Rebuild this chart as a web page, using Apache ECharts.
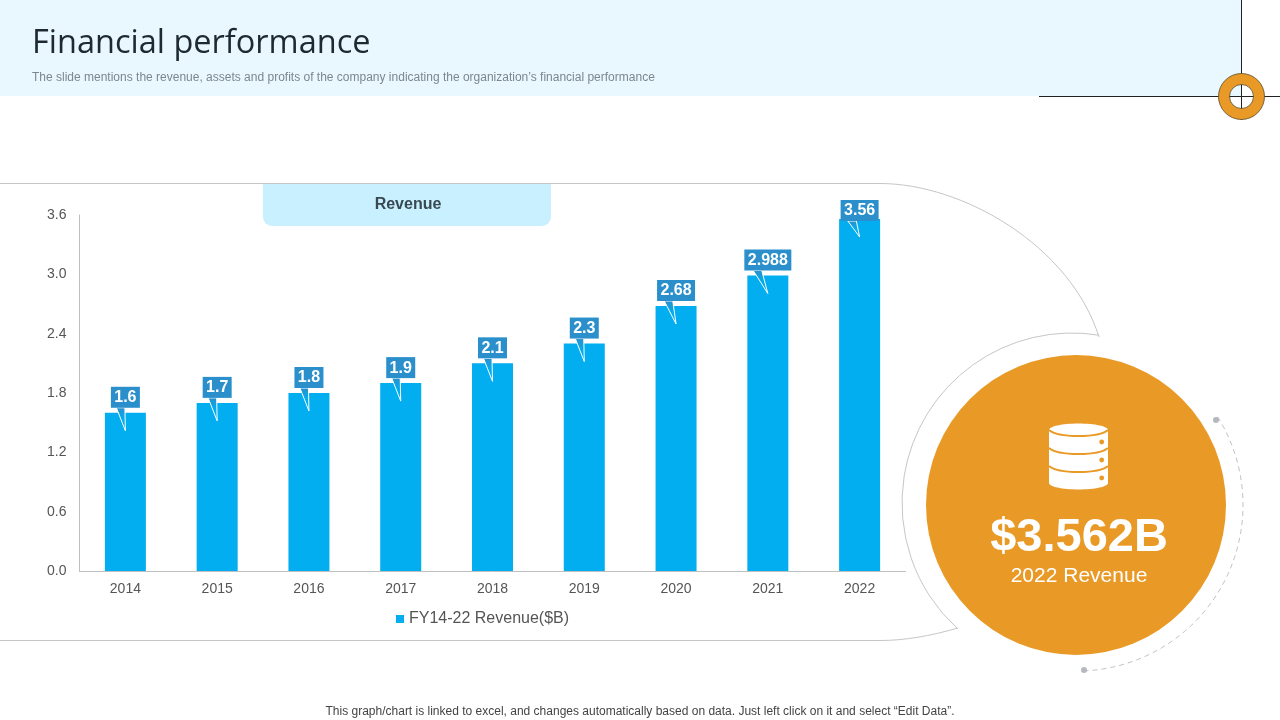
<!DOCTYPE html>
<html>
<head>
<meta charset="utf-8">
<title>Financial performance</title>
<script src="https://cdn.jsdelivr.net/npm/echarts@6/dist/echarts.min.js"></script>
<style>
  html, body { margin: 0; padding: 0; background: #fff; }
  #chart { width: 1280px; height: 720px; }
</style>
</head>
<body>
<div id="chart"></div>
<script>
var years = ['2014', '2015', '2016', '2017', '2018', '2019', '2020', '2021', '2022']
var revenue = [1.6, 1.7, 1.8, 1.9, 2.1, 2.3, 2.68, 2.988, 3.56]

var ORANGE = '#E99A26'
var BAR = '#02AEEF'
var CALLOUT = '#2A8FCB'
var OUTLINE = '#C4C6C8'
var FONT = '"Liberation Sans", Arial, sans-serif'

// callout label above each bar
function renderCallout (params, api) {
  var p = api.coord([api.value(0), api.value(1)])
  var plotTop = api.coord([0, 3.6])[1]
  var text = String(api.value(1))
  var w = text.length * 9 + 2
  // the tallest bar's box stays just above the plot, overlapping the bar
  var top = Math.max(p[1] - 26, plotTop - 15)
  var bottom = top + 21
  var left = p[0] - w / 2
  var tailLeft = p[0] - w * 0.31
  return {
    type: 'group',
    children: [
      {
        type: 'polygon',
        shape: { points: [[tailLeft, bottom], [p[0], p[1] + 18], [tailLeft + 8.5, bottom]] },
        style: {
          fill: {
            type: 'linear',
            x: 0,
            y: 0,
            x2: 0,
            y2: 1,
            colorStops: [{ offset: 0, color: CALLOUT }, { offset: 0.5, color: BAR }]
          },
          stroke: '#fff',
          lineWidth: 1
        }
      },
      {
        type: 'rect',
        shape: { x: left, y: top, width: w, height: bottom - top },
        style: { fill: CALLOUT }
      },
      {
        type: 'text',
        style: {
          x: p[0],
          y: (top + bottom) / 2 + 0.5,
          text: text,
          fill: '#fff',
          font: 'bold 16px ' + FONT,
          align: 'center',
          verticalAlign: 'middle'
        }
      }
    ]
  }
}

function outline (shape, type) {
  return { type: type, silent: true, z: 0, shape: shape, style: { fill: 'none', stroke: OUTLINE, lineWidth: 1 } }
}

function iconBand (y) {
  return {
    type: 'bezierCurve',
    silent: true,
    z: 4,
    shape: { x1: 1049, y1: y, cpx1: 1058, cpy1: y + 8, cpx2: 1099, cpy2: y + 8, x2: 1108, y2: y },
    style: { fill: 'none', stroke: ORANGE, lineWidth: 1.8 }
  }
}

function iconDot (y) {
  return { type: 'circle', silent: true, z: 4, shape: { cx: 1101.7, cy: y, r: 2.4 }, style: { fill: ORANGE } }
}

var decorations = [
  { type: 'rect', silent: true, z: 0, shape: { x: 0, y: 0, width: 1241, height: 96 }, style: { fill: '#E9F7FE' } },
  { type: 'line', silent: true, z: 1, shape: { x1: 1241.5, y1: 0, x2: 1241.5, y2: 120 }, style: { stroke: '#222', lineWidth: 1 } },
  { type: 'line', silent: true, z: 1, shape: { x1: 1039, y1: 96.5, x2: 1280, y2: 96.5 }, style: { stroke: '#222', lineWidth: 1 } },
  { type: 'ring', silent: true, z: 2, shape: { cx: 1241.5, cy: 96.5, r: 23, r0: 12 }, style: { fill: ORANGE, stroke: '#5a4a2a', lineWidth: 0.8 } },
  { type: 'text', silent: true, z: 3, style: { x: 32, y: 44, text: 'Financial performance', fill: '#1F2A30', font: '32.5px "Open Sans", sans-serif', verticalAlign: 'middle' } },
  { type: 'text', silent: true, z: 3, style: { x: 32, y: 77.5, text: 'The slide mentions the revenue, assets and profits of the company indicating the organization\u2019s financial performance', fill: '#7C878E', font: '12px ' + FONT, verticalAlign: 'middle' } },

  // panel outline
  outline({ x1: 0, y1: 183.5, x2: 880, y2: 183.5 }, 'line'),
  outline({ x1: 880, y1: 183.5, cpx1: 962, cpy1: 183.5, cpx2: 1070, cpy2: 245, x2: 1099, y2: 337 }, 'bezierCurve'),
  outline({ cx: 1072, cy: 503, r: 170, startAngle: -1.41, endAngle: 2.31, clockwise: false }, 'arc'),
  outline({ x1: 958, y1: 628, cpx1: 930, cpy1: 636, cpx2: 905, cpy2: 640.5, x2: 880, y2: 640.5 }, 'bezierCurve'),
  outline({ x1: 880, y1: 640.5, x2: 0, y2: 640.5 }, 'line'),

  // revenue tab
  { type: 'rect', silent: true, z: 1, shape: { x: 263, y: 184, width: 288, height: 42, r: [0, 0, 9, 9] }, style: { fill: '#C9F0FE' } },
  { type: 'text', silent: true, z: 2, style: { x: 408, y: 204.5, text: 'Revenue', fill: '#3A4850', font: 'bold 16px ' + FONT, align: 'center', verticalAlign: 'middle' } },

  // big circle
  { type: 'circle', silent: true, z: 1, shape: { cx: 1076, cy: 505, r: 150 }, style: { fill: ORANGE } },
  { type: 'arc', silent: true, z: 1, shape: { cx: 1077, cy: 505, r: 166, startAngle: -0.56, endAngle: 1.52, clockwise: true }, style: { fill: 'none', stroke: '#BFC1C5', lineWidth: 1, lineDash: [5, 4] } },
  { type: 'circle', silent: true, z: 2, shape: { cx: 1216, cy: 420, r: 3 }, style: { fill: '#B5B8BE' } },
  { type: 'circle', silent: true, z: 2, shape: { cx: 1084, cy: 670, r: 3 }, style: { fill: '#B5B8BE' } },

  // database icon
  { type: 'ellipse', silent: true, z: 3, shape: { cx: 1078.5, cy: 430, rx: 29.5, ry: 6.5 }, style: { fill: '#fff' } },
  { type: 'rect', silent: true, z: 3, shape: { x: 1049, y: 430, width: 59, height: 53 }, style: { fill: '#fff' } },
  { type: 'ellipse', silent: true, z: 3, shape: { cx: 1078.5, cy: 483, rx: 29.5, ry: 6.5 }, style: { fill: '#fff' } },
  iconBand(430), iconBand(448), iconBand(466),
  iconDot(442), iconDot(460), iconDot(478),

  { type: 'text', silent: true, z: 3, style: { x: 1079, y: 538, text: '$3.562B', fill: '#fff', font: 'bold 47px ' + FONT, align: 'center', verticalAlign: 'middle' } },
  { type: 'text', silent: true, z: 3, style: { x: 1079, y: 576, text: '2022 Revenue', fill: '#fff', font: '21px ' + FONT, align: 'center', verticalAlign: 'middle' } },

  // footer
  { type: 'text', silent: true, z: 3, style: { x: 640, y: 712, text: 'This graph/chart is linked to excel, and changes automatically based on data. Just left click on it and select \u201cEdit Data\u201d.', fill: '#444', font: '12px ' + FONT, align: 'center', verticalAlign: 'middle' } }
]

var chart = echarts.init(document.getElementById('chart'), null, { renderer: 'canvas' })
chart.setOption({
  animation: false,
  backgroundColor: '#fff',
  textStyle: { fontFamily: FONT },
  graphic: { elements: decorations },
  grid: { left: 79.5, right: 374.5, top: 215, bottom: 149 },
  legend: {
    data: ['FY14-22 Revenue($B)'],
    left: 391,
    top: 606,
    icon: 'rect',
    itemWidth: 8,
    itemHeight: 8,
    itemGap: 2,
    textStyle: { color: '#555', fontSize: 16, fontFamily: FONT }
  },
  xAxis: {
    type: 'category',
    data: years,
    axisTick: { show: false },
    axisLine: { lineStyle: { color: '#BDBFC1' } },
    axisLabel: { color: '#555', fontSize: 14, margin: 11 }
  },
  yAxis: {
    type: 'value',
    min: 0,
    max: 3.6,
    interval: 0.6,
    splitLine: { show: false },
    axisTick: { show: false },
    axisLine: { show: true, lineStyle: { color: '#BDBFC1' } },
    axisLabel: { color: '#555', fontSize: 14, margin: 13, padding: [1, 0, 0, 0], formatter: function (v) { return v.toFixed(1) } }
  },
  series: [
    {
      name: 'FY14-22 Revenue($B)',
      type: 'bar',
      data: revenue,
      barWidth: 41,
      itemStyle: { color: BAR }
    },
    {
      name: 'callouts',
      type: 'custom',
      z: 5,
      data: revenue.map(function (v, i) { return [i, v] }),
      encode: { x: 0, y: 1 },
      renderItem: renderCallout
    }
  ]
})
</script>
</body>
</html>
